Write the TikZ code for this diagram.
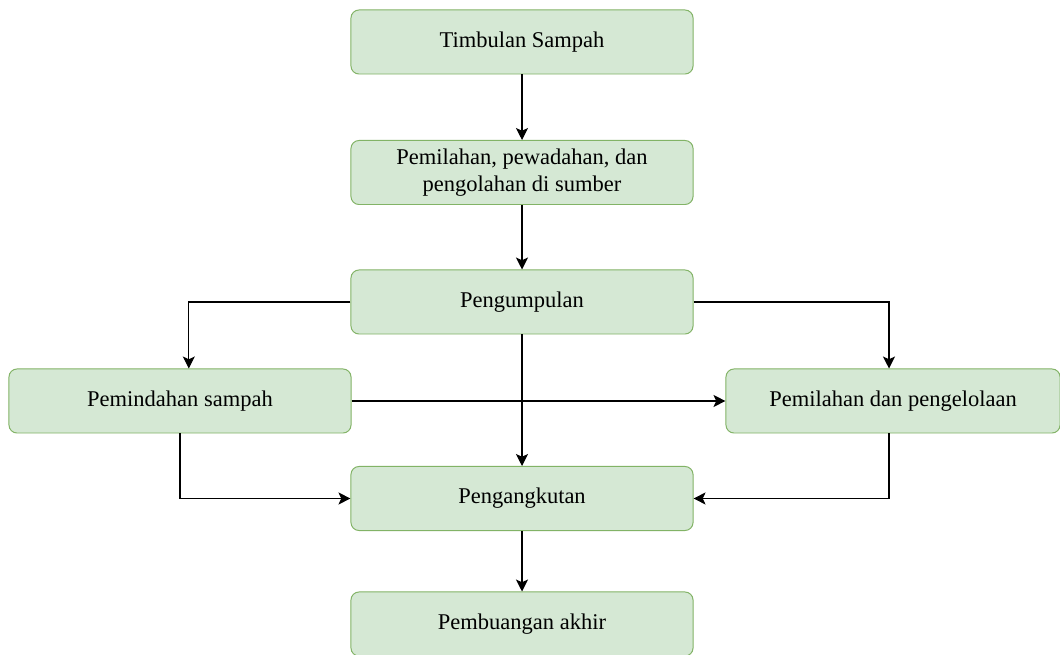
\documentclass[tikz,border=0pt]{standalone}
\usepackage{fontspec}
\setmainfont{Liberation Serif}
\usetikzlibrary{shapes.geometric, arrows.meta}
\definecolor{boxfill}{HTML}{D5E8D4}
\definecolor{boxline}{HTML}{82B366}
\tikzstyle{box} = [draw=boxline, fill=boxfill, rectangle, rounded corners=0.2cm, line width=0.7pt, minimum width=8.55cm, minimum height=1.6cm, align=center, font=\fontsize{16}{19.2}\selectfont]
\tikzstyle{arrow} = [line width=0.75pt,-{Stealth[length=0.3cm,width=0.3cm,inset=0.07cm]}]

\begin{document}
\begin{tikzpicture}[x=0.025cm, y=-0.025cm]
            \useasboundingbox (0,0) rectangle (1060,655);
            \node[box] (tim) at (522,42) {Timbulan Sampah};
            \node[box] (pem) at (522,172.5) {Pemilahan, pewadahan, dan\\pengolahan di sumber};
            \node[box] (kum) at (522,302) {Pengumpulan};
            \node[box] (pind) at (180,401) {Pemindahan sampah};
            \node[box, minimum width=8.35cm] (pil) at (893,401) {Pemilahan dan pengelolaan};
            \node[box] (ang) at (522,498.5) {Pengangkutan};
            \node[box] (buang) at (522,624) {Pembuangan akhir};
            \draw[arrow] (tim) -- (pem);
            \draw[arrow] (pem) -- (kum);
            \draw[arrow] (kum.west) -| ([xshift=0.22cm]pind.north);
            \draw[arrow] (kum.east) -| ([xshift=-0.1cm]pil.north);
            \draw[arrow] (pind.east) -- (pil.west);
            \draw[arrow] (kum) -- (ang);
            \draw[arrow] (pind.south) |- (ang.west);
            \draw[arrow] ([xshift=-0.1cm]pil.south) |- (ang.east);
            \draw[arrow] (ang) -- (buang);
        \end{tikzpicture}
\end{document}
